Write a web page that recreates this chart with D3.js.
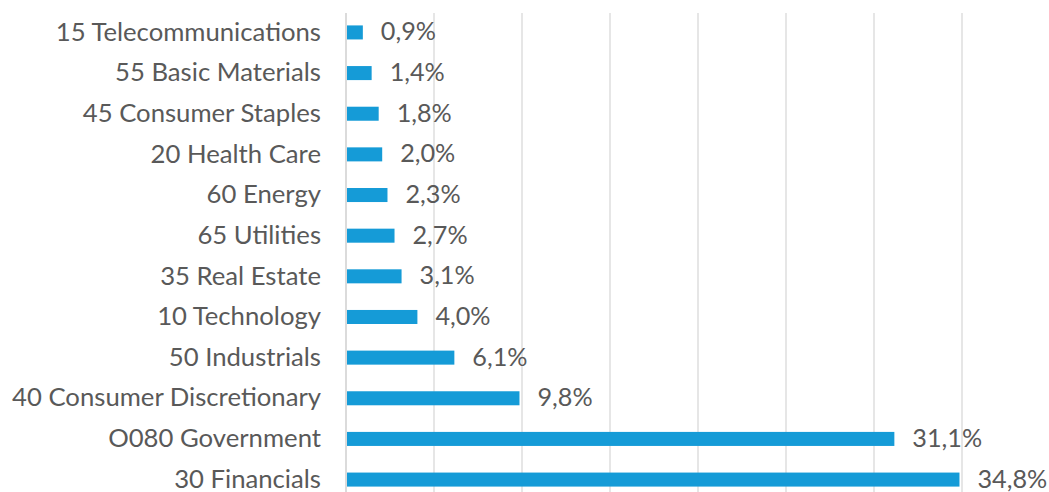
<!DOCTYPE html>
<html><head><meta charset="utf-8">
<script src="https://cdn.jsdelivr.net/npm/d3@7"></script>
<style>html,body{margin:0;padding:0;background:#fff;overflow:hidden}</style>
</head><body><svg id="c" width="1049" height="492"></svg>
<script>
const categories = ["15 Telecommunications","55 Basic Materials","45 Consumer Staples","20 Health Care","60 Energy","65 Utilities","35 Real Estate","10 Technology","50 Industrials","40 Consumer Discretionary","O080 Government","30 Financials"];
const values = [0.9,1.4,1.8,2.0,2.3,2.7,3.1,4.0,6.1,9.8,31.1,34.8];
const gridTicks = [0,5,10,15,20,25,30,35,40];

const svg = d3.select("#c");
const font = "Lato, 'Open Sans', sans-serif";
const x = d3.scaleLinear().domain([0,40]).range([346,1050]);
const y = d3.scaleBand().domain(categories).range([12,500]).paddingInner(0.655).paddingOuter(0.33);

svg.append("g").selectAll("line").data(gridTicks).join("line")
  .attr("x1",d=>x(d)).attr("x2",d=>x(d)).attr("y1",13).attr("y2",500)
  .attr("stroke",d=>d===0?"#c8c8c8":"#d9d9d9").attr("stroke-width",1.3);

svg.append("g").selectAll("rect").data(values).join("rect")
  .attr("x",x(0)+1).attr("y",(d,i)=>y(categories[i]))
  .attr("width",d=>x(d)-x(0)).attr("height",y.bandwidth())
  .attr("fill","#159bd7");

const cat = svg.append("g").selectAll("text").data(categories).join("text")
  .attr("x",321).attr("y",d=>y(d)+y.bandwidth()/2).attr("dy","0.32em")
  .attr("text-anchor","end").attr("fill","#595959")
  .style("font-family",font).style("font-size","20px").text(d=>d);
let maxW = 0; cat.each(function(){maxW=Math.max(maxW,this.getComputedTextLength());});
const fs = 20*309/maxW;
cat.style("font-size",fs+"px");

const fmt = v => v.toFixed(1).replace(".",",")+"%";
svg.append("g").selectAll("text").data(values).join("text")
  .attr("x",d=>x(d)+19).attr("y",(d,i)=>y(categories[i])+y.bandwidth()/2).attr("dy","0.32em")
  .attr("fill","#595959").style("font-family",font).style("font-size",(fs-0.5)+"px").text(fmt);
</script></body></html>
